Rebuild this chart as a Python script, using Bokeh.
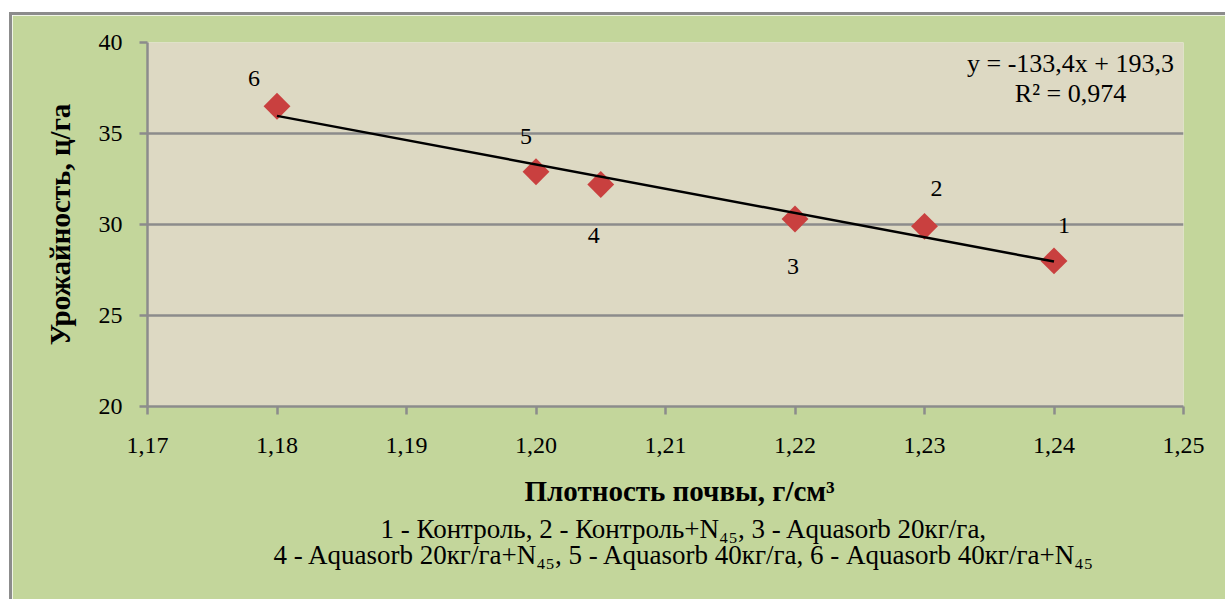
import numpy as np
from bokeh.plotting import figure
from bokeh.models import Label, Title, ColumnDataSource, CustomJSTickFormatter, FixedTicker, Range1d
from bokeh.core.properties import value
from bokeh.embed import file_html
from bokeh.resources import INLINE

# ---- data ----
point_ids = ["1", "2", "3", "4", "5", "6"]
density = [1.24, 1.23, 1.22, 1.205, 1.20, 1.18]
yield_cha = [28.0, 29.9, 30.3, 32.2, 32.9, 36.5]
x_ticks = [1.17, 1.18, 1.19, 1.20, 1.21, 1.22, 1.23, 1.24, 1.25]
y_ticks = [20, 25, 30, 35, 40]
x_title = "Плотность почвы, г/см³"
y_title = "Урожайность, ц/га"
legend_lines = [
    "1 - Контроль,  2 - Контроль+N₄₅, 3 - Aquasorb 20кг/га,",
    "4 - Aquasorb 20кг/га+N₄₅, 5 - Aquasorb 40кг/га,  6 - Aquasorb 40кг/га+N₄₅",
]
equation_lines = ["y = -133,4x + 193,3", "R² = 0,974"]

# label placement (screen px offsets, style only)
label_dx = [10, 12, -2, -7, -10, -23]
label_dy = [-35, -38, 47, 51, -35, -28]
# left offsets (px from plot-area left) and standoffs of the texts under the axis
below_offsets = [377, 233, 126]
below_standoffs = [34, -40, 28]

FONT = "Liberation Serif"
GREEN = "#c3d69b"
PLOT_BG = "#ddd9c3"
GRAY = "#8c8c8c"
RED = "#c9403f"

p = figure(
    width=1216, height=587,
    x_range=Range1d(1.17, 1.25), y_range=Range1d(20, 40),
    output_backend="svg", toolbar_location=None,
    min_border_left=135, min_border_right=45,
    min_border_top=27, min_border_bottom=196,
)
p.margin = (12, 0, 0, 9)
p.styles = {"border-top": "3px solid #8c8c8c", "border-left": "3px solid #8c8c8c"}

p.background_fill_color = PLOT_BG
p.border_fill_color = GREEN
p.outline_line_color = None
p.xgrid.grid_line_color = None
p.ygrid.grid_line_color = GRAY
p.ygrid.grid_line_width = 2.5
p.ygrid.ticker = FixedTicker(ticks=y_ticks)

p.xaxis.ticker = FixedTicker(ticks=x_ticks)
p.yaxis.ticker = FixedTicker(ticks=y_ticks)
p.xaxis.formatter = CustomJSTickFormatter(code="return tick.toFixed(2).replace('.', ',');")

for ax in (p.xaxis, p.yaxis):
    ax.axis_line_color = GRAY
    ax.axis_line_width = 2.5
    ax.major_tick_line_color = GRAY
    ax.major_tick_line_width = 2.5
    ax.major_tick_out = 8
    ax.major_tick_in = 0
    ax.minor_tick_line_color = None
    ax.major_label_text_font = FONT
    ax.major_label_text_font_size = "24px"
    ax.major_label_text_color = "black"

p.xaxis.major_label_standoff = 23
p.yaxis.major_label_standoff = 17
p.yaxis.axis_label = y_title
p.yaxis.axis_label_text_font = FONT
p.yaxis.axis_label_text_font_style = "bold"
p.yaxis.axis_label_text_font_size = "29px"
p.yaxis.axis_label_text_color = "black"
p.yaxis.axis_label_standoff = 20

src = ColumnDataSource(dict(x=density, y=yield_cha, t=point_ids, dx=label_dx, dy=label_dy))

p.scatter("x", "y", source=src, marker="square", size=19, angle=np.pi / 4,
          fill_color=RED, line_color=None)

coef = np.polyfit(density, yield_cha, 1)
xs = np.array([min(density), max(density)])
p.line(xs, coef[0] * xs + coef[1], line_color="black", line_width=2.5)

p.text("x", "y", text="t", source=src, x_offset="dx", y_offset="dy",
       text_align="center", text_baseline="middle",
       text_font=value(FONT), text_font_size="24px", text_color="black")

# regression equation
for i, line in enumerate(equation_lines):
    p.add_layout(Label(x=923, y=343 - 30 * i, x_units="screen", y_units="screen",
                       text=line, text_align="center", text_baseline="middle",
                       text_font=FONT, text_font_size="26px", text_color="black"))

# x title and legend below the axis
p.add_layout(Title(text=x_title, align="left", offset=below_offsets[0],
                   standoff=below_standoffs[0],
                   text_font=FONT, text_font_style="bold", text_font_size="29px",
                   text_color="black"), "below")
for line, off, so in zip(legend_lines, below_offsets[1:], below_standoffs[1:]):
    p.add_layout(Title(text=line, align="left", offset=off, standoff=so,
                       text_font=FONT, text_font_style="normal", text_font_size="27px",
                       text_color="black"), "below")

open("out.html", "w").write(file_html(p, INLINE))
